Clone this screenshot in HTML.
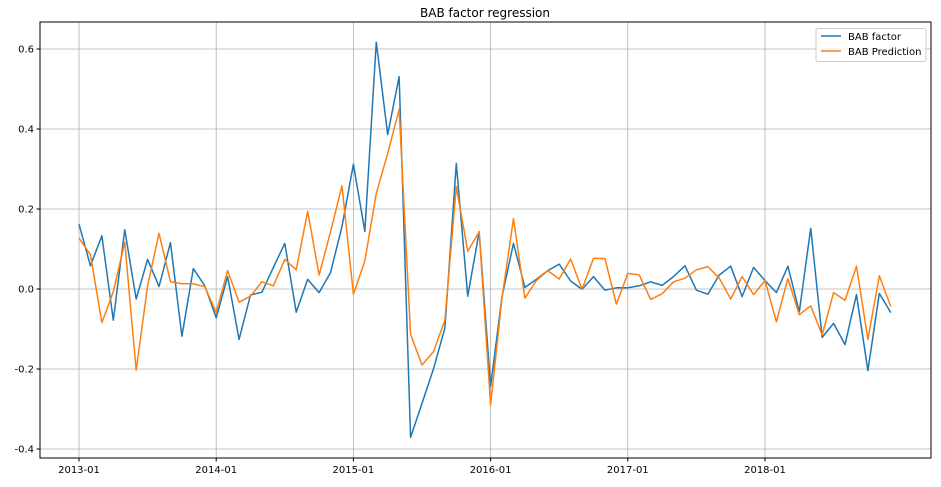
<!DOCTYPE html>
<html><head><meta charset="utf-8"><style>
body{margin:0;background:#fff;font-family:"Liberation Sans","DejaVu Sans",sans-serif;}
svg text{font-family:"DejaVu Sans","Liberation Sans",sans-serif;}
</style></head><body>
<svg id="chart" width="941" height="482" xmlns="http://www.w3.org/2000/svg">
<text x="485" y="17" text-anchor="middle" font-size="12">BAB factor regression</text>
<g id="grid"></g>
<g id="series"></g>
<rect x="40" y="22" width="891" height="436" fill="none" stroke="#000" stroke-width="1"/>
<g id="ticks"></g>
<g>
<rect x="816" y="28.5" width="110" height="33" fill="#fff" fill-opacity="0.8" stroke="#ccc" rx="2"/>
<g><line x1="821" y1="36" x2="841" y2="36" stroke="#1f77b4" stroke-width="1.5"/><text x="848" y="40" font-size="10">BAB factor</text></g>
<g><line x1="821" y1="51" x2="841" y2="51" stroke="#ff7f0e" stroke-width="1.5"/><text x="848" y="55" font-size="10">BAB Prediction</text></g>
</g>
</svg>
<script>
const factor=[0.162,0.058,0.133,-0.078,0.148,-0.025,0.074,0.006,0.116,-0.118,0.051,0.008,-0.072,0.031,-0.126,-0.015,-0.008,0.054,0.114,-0.058,0.024,-0.009,0.041,0.156,0.312,0.144,0.617,0.386,0.531,-0.371,-0.286,-0.2,-0.098,0.314,-0.018,0.143,-0.243,-0.019,0.114,0.004,0.024,0.046,0.062,0.02,-0.001,0.031,-0.003,0.003,0.003,0.008,0.018,0.009,0.031,0.058,-0.003,-0.013,0.035,0.057,-0.019,0.054,0.021,-0.009,0.057,-0.057,0.152,-0.121,-0.086,-0.139,-0.014,-0.204,-0.011,-0.059];
const prediction=[0.127,0.086,-0.084,-0.007,0.117,-0.203,0.008,0.139,0.018,0.013,0.013,0.006,-0.059,0.046,-0.033,-0.018,0.018,0.008,0.074,0.048,0.194,0.035,0.143,0.258,-0.013,0.07,0.239,0.339,0.449,-0.113,-0.19,-0.157,-0.078,0.256,0.094,0.143,-0.29,-0.022,0.176,-0.023,0.021,0.046,0.025,0.075,-0.001,0.077,0.076,-0.038,0.039,0.035,-0.026,-0.012,0.018,0.027,0.048,0.056,0.027,-0.025,0.031,-0.014,0.021,-0.082,0.026,-0.064,-0.042,-0.115,-0.009,-0.028,0.057,-0.126,0.033,-0.044];
const yTicks=[-0.4,-0.2,0.0,0.2,0.4,0.6];
const xTickLabels=["2013-01","2014-01","2015-01","2016-01","2017-01","2018-01"];
const NS="http://www.w3.org/2000/svg";
function xMonth(m){return 79+m*(137.2/12);}
function yVal(v){return 289-v*400;}
const grid=document.getElementById('grid'),ticks=document.getElementById('ticks'),series=document.getElementById('series');
function mk(tag,attrs,parent){const e=document.createElementNS(NS,tag);for(const k in attrs)e.setAttribute(k,attrs[k]);parent.appendChild(e);return e;}
yTicks.forEach(v=>{const y=yVal(v);
 const g=mk('line',{x1:40,x2:931,y1:y,y2:y,stroke:'#b0b0b0','stroke-width':0.8},grid);
 
 
 mk('line',{x1:36.5,x2:40,y1:y,y2:y,stroke:'#000'},ticks);
 const t=mk('text',{x:34,y:y+3.5,'text-anchor':'end','font-size':10},ticks);
 t.textContent=v.toFixed(1);
 
 
});
xTickLabels.forEach((lab,i)=>{const x=xMonth(i*12);
 const g=mk('line',{x1:x,x2:x,y1:22,y2:458,stroke:'#b0b0b0','stroke-width':0.8},grid);
 
 
 mk('line',{x1:x,x2:x,y1:458,y2:461.5,stroke:'#000'},ticks);
 const t=mk('text',{x:x,y:473,'text-anchor':'middle','font-size':10},ticks);
 t.textContent=lab;
 
 
});
function line(data,color,name){
 const p=mk('polyline',{points:data.map((v,i)=>xMonth(i).toFixed(2)+','+yVal(v).toFixed(2)).join(' '),fill:'none',stroke:color,'stroke-width':1.5,'stroke-linejoin':'round'},series);
 
 
}
line(factor,'#1f77b4','bab-factor-line');
line(prediction,'#ff7f0e','bab-prediction-line');
</script>
</body></html>
